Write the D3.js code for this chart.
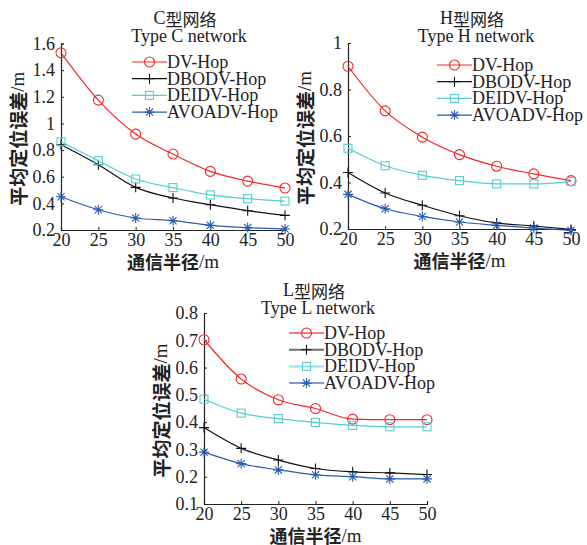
<!DOCTYPE html>
<html>
<head>
<meta charset="utf-8">
<script src="https://cdn.jsdelivr.net/npm/d3@7"></script>
<style>
  body { margin: 0; background: #fff; }
  text { font-family: "Liberation Serif", "Times New Roman", serif; }
  .cjk { font-family: "Noto Sans CJK SC", sans-serif; }
</style>
</head>
<body>
<svg id="chart" width="587" height="545"></svg>
<script>
// communication radius (x axis)
const radii = [20, 25, 30, 35, 40, 45, 50];
const seriesNames = ["DV-Hop", "DBODV-Hop", "DEIDV-Hop", "AVOADV-Hop"];

// Type C network
const cDV     = [1.53, 1.175, 0.92, 0.77, 0.64, 0.567, 0.515];
const cDBODV  = [0.84, 0.69, 0.52, 0.44, 0.39, 0.345, 0.31];
const cDEIDV  = [0.862, 0.72, 0.583, 0.518, 0.463, 0.435, 0.417];
const cAVOADV = [0.45, 0.352, 0.29, 0.27, 0.235, 0.218, 0.207];

// Type H network
const hDV     = [0.9, 0.708, 0.595, 0.52, 0.47, 0.437, 0.408];
const hDBODV  = [0.443, 0.355, 0.302, 0.257, 0.226, 0.213, 0.198];
const hDEIDV  = [0.547, 0.472, 0.431, 0.408, 0.394, 0.394, 0.404];
const hAVOADV = [0.349, 0.287, 0.254, 0.23, 0.216, 0.204, 0.194];

// Type L network
const lDV     = [0.702, 0.558, 0.482, 0.45, 0.411, 0.409, 0.409];
const lDBODV  = [0.38, 0.304, 0.261, 0.23, 0.218, 0.214, 0.208];
const lDEIDV  = [0.484, 0.433, 0.413, 0.399, 0.388, 0.383, 0.383];
const lAVOADV = [0.29, 0.248, 0.225, 0.207, 0.2, 0.192, 0.192];

const cYTicks = [0.2, 0.4, 0.6, 0.8, 1, 1.2, 1.4, 1.6];
const hYTicks = [0.2, 0.4, 0.6, 0.8, 1];
const lYTicks = [0.1, 0.2, 0.3, 0.4, 0.5, 0.6, 0.7, 0.8];

const colors = ["#f02828", "#111111", "#55ccd3", "#2a5cb0"];
const markers = ["circle", "plus", "square", "star"];

const svg = d3.select("#chart");

function drawMarker(g, type, x, y, color) {
    if (type === "circle") {
        g.append("circle").attr("cx", x).attr("cy", y).attr("r", 5)
            .attr("fill", "none").attr("stroke", color).attr("stroke-width", 1.1);
    } else if (type === "square") {
        g.append("rect").attr("x", x - 4).attr("y", y - 4).attr("width", 8).attr("height", 8)
            .attr("fill", "none").attr("stroke", color).attr("stroke-width", 1.1);
    } else if (type === "plus") {
        g.append("path").attr("d", `M${x - 5},${y}H${x + 5}M${x},${y - 5}V${y + 5}`)
            .attr("stroke", color).attr("stroke-width", 1.1);
    } else {
        const r = 5, d = 3.6;
        g.append("path")
            .attr("d", `M${x - r},${y}H${x + r}M${x},${y - r}V${y + r}` +
                `M${x - d},${y - d}L${x + d},${y + d}M${x - d},${y + d}L${x + d},${y - d}`)
            .attr("stroke", color).attr("stroke-width", 1.1);
    }
}

function drawPanel(cfg) {
    const g = svg.append("g");
    const x = d3.scaleLinear().domain([20, 50]).range([cfg.x0, cfg.x1]);
    const y = d3.scaleLinear().domain(cfg.yDomain).range([cfg.y0, cfg.y1]);

    // axes (left + bottom only, ticks inward)
    const yAxis = g.append("g").attr("transform", `translate(${cfg.x0},0)`)
        .call(d3.axisLeft(y).tickValues(cfg.yTicks).tickSize(-3).tickPadding(6)
            .tickFormat(d3.format("~g")));
    const xAxis = g.append("g").attr("transform", `translate(0,${cfg.y0})`)
        .call(d3.axisBottom(x).tickValues(radii).tickSize(-3).tickPadding(2));
    [yAxis, xAxis].forEach(a => {
        a.select(".domain").attr("stroke", "#222").attr("stroke-width", 1.2);
        a.selectAll(".tick line").attr("stroke", "#222");
        a.selectAll(".tick text").attr("fill", "#222")
            .style("font-family", "Liberation Serif, serif").style("font-size", "18px");
    });
    xAxis.selectAll(".tick text").attr("dy", "0.76em");

    // series
    const line = d3.line().x((d, i) => x(radii[i])).y(d => y(d)).curve(d3.curveMonotoneX);
    cfg.series.forEach((vals, k) => {
        g.append("path").datum(vals).attr("d", line)
            .attr("fill", "none").attr("stroke", colors[k]).attr("stroke-width", 1.2);
        vals.forEach((v, i) => drawMarker(g, markers[k], x(radii[i]), y(v), colors[k]));
    });

    // titles
    g.append("text").attr("class", "cjk").attr("x", cfg.tx).attr("y", cfg.ty)
        .attr("text-anchor", "middle").attr("dominant-baseline", "central")
        .style("font-size", "17px").attr("fill", "#222")
        .call(t => {
            t.append("tspan").style("font-family", "Liberation Serif, serif").style("font-size", "18px").text(cfg.letter);
            t.append("tspan").text("型网络");
        });
    g.append("text").attr("x", cfg.tx + 4).attr("y", cfg.ty + 18)
        .attr("text-anchor", "middle").attr("dominant-baseline", "central")
        .style("font-size", "18px").attr("fill", "#222")
        .text(`Type ${cfg.letter} network`);

    // legend
    seriesNames.forEach((name, k) => {
        const ly = cfg.ly + k * 16.7;
        g.append("line").attr("x1", cfg.lx).attr("x2", cfg.lx + 35).attr("y1", ly).attr("y2", ly)
            .attr("stroke", colors[k]).attr("stroke-width", cfg.legendWidth)
            .attr("opacity", cfg.legendOpacity);
        drawMarker(g, markers[k], cfg.lx + 17.5, ly, colors[k]);
        g.append("text").attr("x", cfg.lx + 35).attr("y", ly)
            .attr("dominant-baseline", "central").style("font-size", "18px").attr("fill", "#222")
            .text(name);
    });

    // axis labels
    g.append("text").attr("x", (cfg.x0 + cfg.x1) / 2).attr("y", cfg.y0 + 31)
        .attr("text-anchor", "middle").attr("dominant-baseline", "central").attr("fill", "#222")
        .call(t => {
            t.append("tspan").attr("class", "cjk").style("font-size", "18px").style("font-weight", "bold").text("通信半径");
            t.append("tspan").style("font-size", "19px").text("/m");
        });
    g.append("text")
        .attr("transform", `translate(${cfg.x0 - 44},${(cfg.y0 + cfg.y1) / 2 + 2}) rotate(-90)`)
        .attr("text-anchor", "middle").attr("dominant-baseline", "central").attr("fill", "#222")
        .call(t => {
            t.append("tspan").attr("class", "cjk").style("font-size", "19px").style("font-weight", "bold").text("平均定位误差");
            t.append("tspan").style("font-size", "19px").text("/m");
        });
}

drawPanel({
    letter: "C", x0: 61, x1: 285, y0: 230, y1: 43.5, yDomain: [0.2, 1.6], yTicks: cYTicks,
    series: [cDV, cDBODV, cDEIDV, cAVOADV],
    tx: 185, ty: 18, lx: 132, ly: 62, legendWidth: 1.2, legendOpacity: 1
});
drawPanel({
    letter: "H", x0: 348, x1: 571, y0: 229, y1: 43, yDomain: [0.2, 1], yTicks: hYTicks,
    series: [hDV, hDBODV, hDEIDV, hAVOADV],
    tx: 472, ty: 18, lx: 437, ly: 65, legendWidth: 1.2, legendOpacity: 1
});
drawPanel({
    letter: "L", x0: 204, x1: 427, y0: 504, y1: 313, yDomain: [0.1, 0.8], yTicks: lYTicks,
    series: [lDV, lDBODV, lDEIDV, lAVOADV],
    tx: 314, ty: 290, lx: 289, ly: 333, legendWidth: 2, legendOpacity: 0.6
});
</script>
</body>
</html>
